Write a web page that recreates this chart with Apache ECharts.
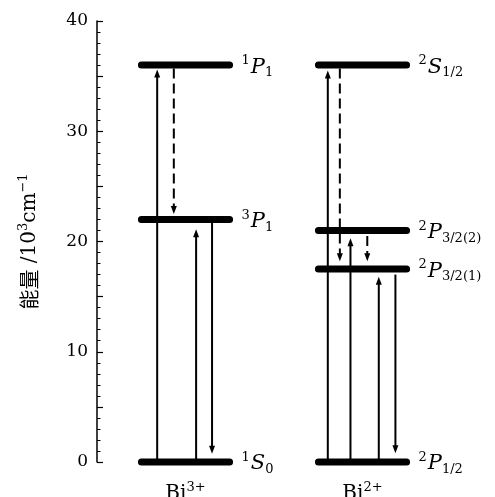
<!DOCTYPE html>
<html><head><meta charset="utf-8">
<script src="https://cdn.jsdelivr.net/npm/echarts@6/dist/echarts.min.js"></script>
<style>html,body{margin:0;padding:0;background:#fff}#c{width:495px;height:497px}</style>
</head><body><div id="c"></div>
<script>
// ---- data ----
const ionNames = ['Bi', 'Bi'];
const ionCharges = ['3+', '2+'];

const levelIon = [0, 0, 0, 1, 1, 1, 1];
const levelEnergy = [0, 22, 36, 0, 17.5, 21, 36];
const levelSup = ['1', '3', '1', '2', '2', '2', '2'];
const levelLetter = ['S', 'P', 'P', 'P', 'P', 'P', 'S'];
const levelSub = ['0', '1', '1', '1/2', '3/2(1)', '3/2(2)', '1/2'];

const arrowIon = [0, 0, 0, 0, 1, 1, 1, 1, 1, 1];
const arrowSlot = [-0.16, -0.066, 0.06, 0.15, -0.196, -0.128, -0.068, 0.027, 0.092, 0.186];
const arrowFrom = [0, 35.7, 0, 22, 0, 35.7, 0, 20.5, 0, 17.0];
const arrowTo = [35.6, 22.5, 21.1, 0.75, 35.5, 18.2, 20.3, 18.2, 16.8, 0.8];
const arrowDashed = [false, true, false, false, false, true, false, true, false, false];

const yTickLabels = [0, 10, 20, 30, 40];

// ---- chart ----
const SERIF = 'DejaVu Serif';
const LEVEL_HALF = 0.249;

const chart = echarts.init(document.getElementById('c'), null, {renderer: 'canvas'});

const option = {
  animation: false,
  backgroundColor: '#fff',
  grid: {left: 97, right: 8.6, top: 21, bottom: 35, containLabel: false, outerBoundsMode: 'none'},
  xAxis: {
    type: 'value', min: 0.5, max: 2.7,
    axisLine: {show: false}, axisTick: {show: false}, splitLine: {show: false},
    axisLabel: {
      customValues: [1, 2],
      margin: 19,
      formatter: v => {
        const i = Math.round(v) - 1;
        return '{b|' + ionNames[i] + '}{s|' + ionCharges[i] + '}';
      },
      rich: {
        b: {fontFamily: SERIF, fontSize: 20, color: '#000'},
        s: {fontFamily: SERIF, fontSize: 13, color: '#000', padding: [0, 0, 12, 0]}
      }
    }
  },
  yAxis: [
    {
      // minor ticks (every 1)
      type: 'value', min: 0, max: 40, interval: 1,
      axisLine: {show: false},
      axisTick: {show: true, inside: true, length: 3.5, lineStyle: {color: '#000', width: 1}},
      splitLine: {show: false},
      axisLabel: {show: false}
    },
    {
      // major ticks (every 5) with labels every 10
      type: 'value', min: 0, max: 40, interval: 5, position: 'left',
      axisLine: {show: true, lineStyle: {color: '#000', width: 1.5}},
      axisTick: {show: true, inside: true, length: 6, lineStyle: {color: '#000', width: 1.2}},
      splitLine: {show: false},
      axisLabel: {
        formatter: v => yTickLabels.includes(v) ? String(v) : '',
        color: '#000', fontFamily: SERIF, fontSize: 17, margin: 9
      },
      name: '{zh|能量}{t| /10}{sp|3}{t|cm}{sp|−1}',
      nameLocation: 'middle', nameRotate: 90, nameGap: 55,
      nameTextStyle: {
        rich: {
          zh: {fontFamily: 'Noto Sans CJK SC', fontSize: 20, color: '#000'},
          t: {fontFamily: SERIF, fontSize: 20, color: '#000'},
          sp: {fontFamily: SERIF, fontSize: 13, color: '#000', padding: [0, 0, 12, 0]}
        }
      }
    }
  ],
  series: [
    {
      type: 'custom',
      silent: true,
      z: 3,
      yAxisIndex: 0,
      data: levelEnergy.map((e, i) => [levelIon[i] + 1, e]),
      renderItem: (params, api) => {
        const i = params.dataIndex;
        const cx = levelIon[i] + 1;
        const p0 = api.coord([cx - LEVEL_HALF, levelEnergy[i]]);
        const p1 = api.coord([cx + LEVEL_HALF, levelEnergy[i]]);
        return {
          type: 'group',
          children: [
            {type: 'line', shape: {x1: p0[0], y1: p0[1], x2: p1[0], y2: p1[1]},
             style: {stroke: '#000', lineWidth: 7, lineCap: 'round'}},
            {type: 'text', x: p1[0] + 12, y: p1[1] + 2,
             style: {
               text: '{sup|' + levelSup[i] + '}{it|' + levelLetter[i] + '}{sub|' + levelSub[i] + '}',
               verticalAlign: 'middle', align: 'left',
               rich: {
                 sup: {fontFamily: SERIF, fontSize: 13, fill: '#000', padding: [0, 1, 12, 0]},
                 it: {fontFamily: SERIF, fontStyle: 'italic', fontSize: 21, fill: '#000'},
                 sub: {fontFamily: SERIF, fontSize: 13, fill: '#000', padding: [12, 0, 0, 0]}
               }
             }}
          ]
        };
      }
    },
    {
      type: 'custom',
      silent: true,
      z: 4,
      yAxisIndex: 0,
      data: arrowFrom.map((f, i) => [arrowIon[i] + 1 + arrowSlot[i], f, arrowTo[i]]),
      renderItem: (params, api) => {
        const i = params.dataIndex;
        const x = arrowIon[i] + 1 + arrowSlot[i];
        const p0 = api.coord([x, arrowFrom[i]]);
        const p1 = api.coord([x, arrowTo[i]]);
        const dir = p1[1] > p0[1] ? 1 : -1;
        const L = 8, W = 3;
        const base = p1[1] - dir * L;
        return {
          type: 'group',
          children: [
            {type: 'line', shape: {x1: p0[0], y1: p0[1], x2: p1[0], y2: base + dir * 1},
             style: {stroke: '#000', lineWidth: 2, lineDash: arrowDashed[i] ? [10, 5] : null}},
            {type: 'polygon', shape: {points: [[p1[0], p1[1]], [p1[0] - W, base], [p1[0] + W, base]]},
             style: {fill: '#000'}}
          ]
        };
      }
    }
  ]
};
chart.setOption(option);
</script>
</body></html>
